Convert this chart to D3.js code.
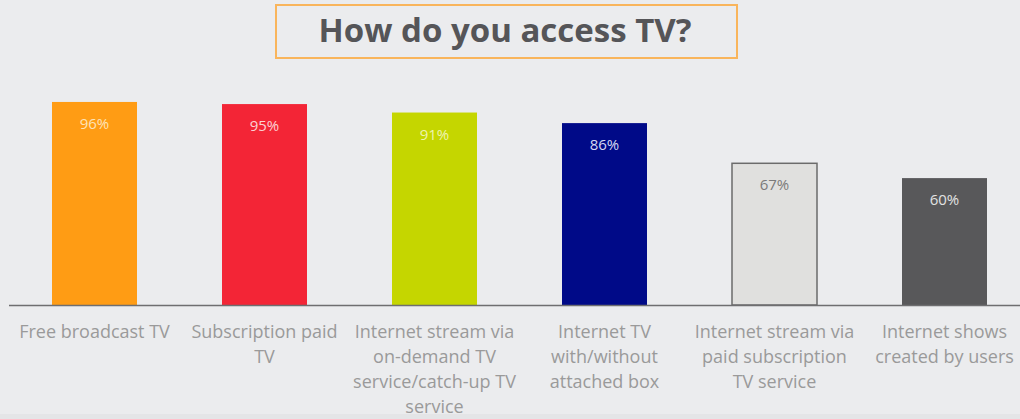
<!DOCTYPE html>
<html>
<head>
<meta charset="utf-8">
<script src="https://cdnjs.cloudflare.com/ajax/libs/d3/7.8.5/d3.min.js"></script>
<style>
  html, body { margin: 0; padding: 0; background: #ebecee; }
  svg { display: block; }
</style>
</head>
<body>
<svg id="chart" width="1020" height="419"></svg>
<script>
// How people access TV: share of respondents per access method
const categories = [
  ["Free broadcast TV"],
  ["Subscription paid", "TV"],
  ["Internet stream via", "on-demand TV", "service/catch-up TV", "service"],
  ["Internet TV", "with/without", "attached box"],
  ["Internet stream via", "paid subscription", "TV service"],
  ["Internet shows", "created by users"]
];
const values = [96, 95, 91, 86, 67, 60];
const barColors = ["#ff9c14", "#f32536", "#c5d600", "#000a88", "#e0e0de", "#58585a"];
const labelColors = ["#fde3b8", "#fcd0d4", "#eef3b0", "#d6d8f2", "#7a7a7a", "#e2e2e2"];
const title = "How do you access TV?";

const W = 1020, H = 419;
const svg = d3.select("#chart");

// bottom edge shading
svg.append("rect").attr("x", 0).attr("y", 414).attr("width", W).attr("height", 5)
  .attr("fill", "#e4e5e7");

const x = d3.scaleBand()
  .domain(d3.range(values.length))
  .range([9.5, 1029.5])
  .paddingInner(0.5)
  .paddingOuter(0.25);

const y = d3.scaleLinear().domain([0, 100]).range([305, 93.5]);

// bars
svg.selectAll("rect.bar")
  .data(values)
  .join("rect")
  .attr("class", "bar")
  .attr("x", (d, i) => x(i))
  .attr("y", d => y(d))
  .attr("width", x.bandwidth())
  .attr("height", d => y(0) - y(d))
  .attr("fill", (d, i) => barColors[i])
  .attr("stroke", (d, i) => i === 4 ? "#6b6b6b" : "none")
  .attr("stroke-width", 1.5);

// value labels inside the bars
svg.selectAll("text.val")
  .data(values)
  .join("text")
  .attr("class", "val")
  .attr("x", (d, i) => x(i) + x.bandwidth() / 2)
  .attr("y", d => y(d) + 27)
  .attr("text-anchor", "middle")
  .attr("font-family", "'Open Sans', sans-serif")
  .attr("font-size", 15)
  .attr("fill", (d, i) => labelColors[i])
  .text(d => d + "%");

// baseline axis
svg.append("line")
  .attr("x1", 9).attr("x2", W)
  .attr("y1", y(0) + 0.5).attr("y2", y(0) + 0.5)
  .attr("stroke", "#6e6e70").attr("stroke-width", 1.5);

// category labels
const cat = svg.selectAll("text.cat")
  .data(categories)
  .join("text")
  .attr("class", "cat")
  .attr("text-anchor", "middle")
  .attr("font-family", "'Open Sans', sans-serif")
  .attr("font-size", 18)
  .attr("fill", "#9a9a9a");
cat.each(function (lines, i) {
  d3.select(this).selectAll("tspan")
    .data(lines)
    .join("tspan")
    .attr("x", x(i) + x.bandwidth() / 2)
    .attr("y", (l, j) => 338 + j * 25)
    .text(l => l);
});

// title box
svg.append("rect")
  .attr("x", 276).attr("y", 5).attr("width", 461).attr("height", 53)
  .attr("fill", "#ebecee")
  .attr("stroke", "#f9b55c").attr("stroke-width", 2);
svg.append("text")
  .attr("x", 505).attr("y", 42)
  .attr("text-anchor", "middle")
  .attr("font-family", "'Open Sans', sans-serif")
  .attr("font-weight", "bold")
  .attr("font-size", 33)
  .attr("fill", "#555558")
  .text(title);
</script>
</body>
</html>
